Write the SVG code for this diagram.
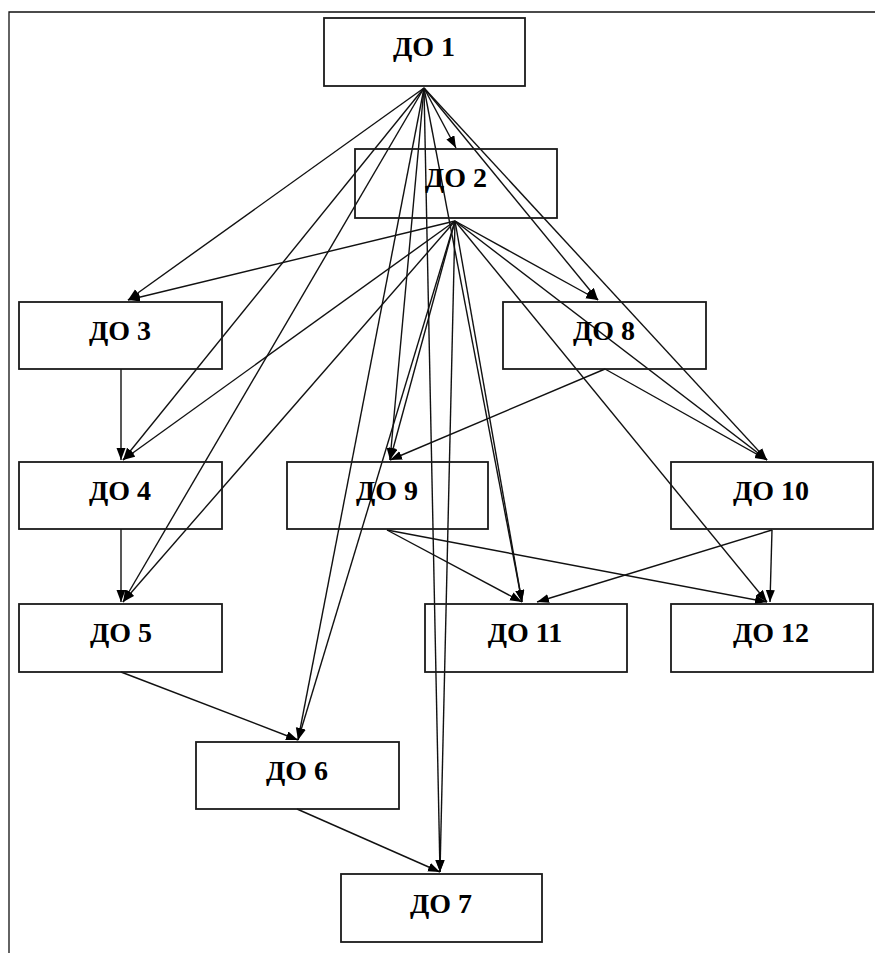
<svg xmlns="http://www.w3.org/2000/svg" width="875" height="953" viewBox="0 0 875 953">
<style>
.box{fill:none;stroke:#1a1a1a;stroke-width:1.8}
.lbl{font-family:"Liberation Serif","Times New Roman",serif;font-weight:bold;font-size:28px;fill:#000;text-anchor:middle}
.e{stroke:#111;stroke-width:1.4;fill:none;marker-end:url(#ah)}
.frame{stroke:#111;stroke-width:1.3;fill:none}
</style>
<defs>
<marker id="ah" markerUnits="userSpaceOnUse" markerWidth="13" markerHeight="10" refX="12" refY="4.5" orient="auto">
<path d="M0,0 L12,4.5 L0,9 Z" fill="#000"/>
</marker>
</defs>
<rect width="875" height="953" fill="#fff"/>
<path class="frame" d="M9,953 V12 H875"/>
<g id="connectors">
<line class="e" x1="424" y1="88" x2="456" y2="148"/>
<line class="e" x1="424" y1="88" x2="128" y2="300"/>
<line class="e" x1="424" y1="88" x2="123" y2="460"/>
<line class="e" x1="424" y1="88" x2="123" y2="602"/>
<line class="e" x1="424" y1="88" x2="298" y2="740"/>
<line class="e" x1="424" y1="88" x2="440" y2="872"/>
<line class="e" x1="424" y1="88" x2="598" y2="300"/>
<line class="e" x1="424" y1="88" x2="390" y2="460"/>
<line class="e" x1="424" y1="88" x2="767" y2="460"/>
<line class="e" x1="424" y1="88" x2="522" y2="602"/>
<line class="e" x1="455" y1="221" x2="128" y2="300"/>
<line class="e" x1="455" y1="221" x2="123" y2="460"/>
<line class="e" x1="455" y1="221" x2="123" y2="602"/>
<line class="e" x1="455" y1="221" x2="298" y2="740"/>
<line class="e" x1="455" y1="221" x2="440" y2="872"/>
<line class="e" x1="455" y1="221" x2="598" y2="300"/>
<line class="e" x1="455" y1="221" x2="390" y2="460"/>
<line class="e" x1="455" y1="221" x2="767" y2="460"/>
<line class="e" x1="455" y1="221" x2="522" y2="602"/>
<line class="e" x1="455" y1="221" x2="767" y2="602"/>
<line class="e" x1="121" y1="369" x2="121" y2="460"/>
<line class="e" x1="121" y1="529" x2="121" y2="602"/>
<line class="e" x1="121" y1="672" x2="298" y2="740"/>
<line class="e" x1="297" y1="809" x2="440" y2="872"/>
<line class="e" x1="605" y1="369" x2="390" y2="460"/>
<line class="e" x1="605" y1="369" x2="767" y2="460"/>
<line class="e" x1="387" y1="530" x2="522" y2="602"/>
<line class="e" x1="387" y1="530" x2="767" y2="602"/>
<line class="e" x1="772" y1="530" x2="537" y2="602"/>
<line class="e" x1="772" y1="530" x2="770" y2="602"/>
</g>
<g id="do1"><rect class="box" x="324" y="18" width="201" height="68"/><text class="lbl" x="424" y="56">ДО 1</text></g>
<g id="do2"><rect class="box" x="355" y="149" width="202" height="69"/><text class="lbl" x="456" y="187">ДО 2</text></g>
<g id="do3"><rect class="box" x="19" y="302" width="203" height="67"/><text class="lbl" x="120" y="340">ДО 3</text></g>
<g id="do8"><rect class="box" x="503" y="302" width="203" height="67"/><text class="lbl" x="604" y="340">ДО 8</text></g>
<g id="do4"><rect class="box" x="19" y="462" width="203" height="67"/><text class="lbl" x="120" y="500">ДО 4</text></g>
<g id="do9"><rect class="box" x="287" y="462" width="201" height="67"/><text class="lbl" x="387" y="500">ДО 9</text></g>
<g id="do10"><rect class="box" x="671" y="462" width="202" height="67"/><text class="lbl" x="771" y="500">ДО 10</text></g>
<g id="do5"><rect class="box" x="19" y="604" width="203" height="68"/><text class="lbl" x="121" y="642">ДО 5</text></g>
<g id="do11"><rect class="box" x="425" y="604" width="202" height="68"/><text class="lbl" x="525" y="642">ДО 11</text></g>
<g id="do12"><rect class="box" x="671" y="604" width="202" height="68"/><text class="lbl" x="771" y="642">ДО 12</text></g>
<g id="do6"><rect class="box" x="196" y="742" width="203" height="67"/><text class="lbl" x="297" y="780">ДО 6</text></g>
<g id="do7"><rect class="box" x="341" y="874" width="201" height="68"/><text class="lbl" x="441" y="913">ДО 7</text></g>
</svg>
